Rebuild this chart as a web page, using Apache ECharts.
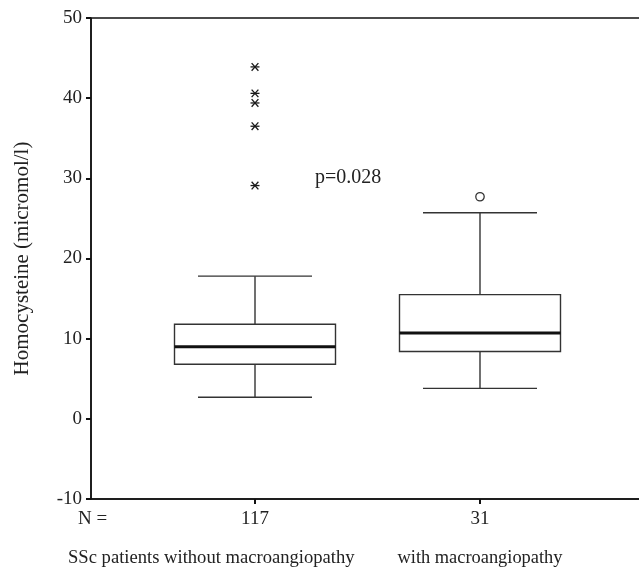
<!DOCTYPE html>
<html>
<head>
<meta charset="utf-8">
<script src="https://cdn.jsdelivr.net/npm/echarts@6/dist/echarts.min.js"></script>
<style>html,body{margin:0;padding:0;background:#fff}#c{width:639px;height:572px}</style>
</head>
<body>
<div id="c"></div>
<script>
// ---- data ----
const categories = ['SSc patients without macroangiopathy', 'with macroangiopathy'];
const groupPos = [1, 2];
const nCounts = [117, 31];
// [min, Q1, median, Q3, max]
const boxStats = [
  [2.7, 6.8, 9.0, 11.8, 17.8],
  [3.8, 8.4, 10.7, 15.5, 25.7]
];
const extremes = [[1, 43.9], [1, 40.6], [1, 39.4], [1, 36.5], [1, 29.1]];
const outliers = [[2, 27.7]];
const yTicks = [-10, 0, 10, 20, 30, 40, 50];
const pText = 'p=0.028';

const FONT = '"Liberation Serif", "Times New Roman", serif';
const chart = echarts.init(document.getElementById('c'), null, {renderer: 'canvas'});

const boxData = boxStats.map((s, i) => [groupPos[i]].concat(s));

const BOX_HALF = 80.5, CAP_HALF = 57;
function renderBox(params, api) {
  const x = api.value(0);
  const p = [1,2,3,4,5].map(k => api.coord([x, api.value(k)]));
  const cx = p[0][0];
  const st = {stroke: '#333', lineWidth: 1.4, fill: null};
  return {
    type: 'group',
    children: [
      {type: 'line', shape: {x1: cx, y1: p[0][1], x2: cx, y2: p[1][1]}, style: st},
      {type: 'line', shape: {x1: cx, y1: p[3][1], x2: cx, y2: p[4][1]}, style: st},
      {type: 'line', shape: {x1: cx - CAP_HALF, y1: p[0][1], x2: cx + CAP_HALF, y2: p[0][1]}, style: st},
      {type: 'line', shape: {x1: cx - CAP_HALF, y1: p[4][1], x2: cx + CAP_HALF, y2: p[4][1]}, style: st},
      {type: 'rect', shape: {x: cx - BOX_HALF, y: p[3][1], width: 2 * BOX_HALF, height: p[1][1] - p[3][1]}, style: {stroke: '#333', lineWidth: 1.4, fill: '#fff'}},
      {type: 'line', shape: {x1: cx - BOX_HALF, y1: p[2][1], x2: cx + BOX_HALF, y2: p[2][1]}, style: {stroke: '#111', lineWidth: 3}}
    ]
  };
}
function renderStar(params, api) {
  const c = api.coord([api.value(0), api.value(1)]);
  const hw = 4.5, hh = 3.8;
  const st = {stroke: '#1a1a1a', lineWidth: 1.3};
  return {
    type: 'group',
    children: [
      {type: 'line', shape: {x1: c[0] - hw, y1: c[1], x2: c[0] + hw, y2: c[1]}, style: st},
      {type: 'line', shape: {x1: c[0] - hw * 0.75, y1: c[1] - hh, x2: c[0] + hw * 0.75, y2: c[1] + hh}, style: st},
      {type: 'line', shape: {x1: c[0] + hw * 0.75, y1: c[1] - hh, x2: c[0] - hw * 0.75, y2: c[1] + hh}, style: st}
    ]
  };
}
function renderCircle(params, api) {
  const c = api.coord([api.value(0), api.value(1)]);
  return {type: 'circle', shape: {cx: c[0], cy: c[1], r: 4.2}, style: {stroke: '#333', lineWidth: 1.3, fill: '#fff'}};
}

chart.setOption({
  animation: false,
  backgroundColor: '#fff',
  grid: {left: 91, top: 18, width: 553, height: 481, outerBoundsMode: 'none', containLabel: false,
         show: true, borderColor: '#111', borderWidth: 1.5, backgroundColor: 'transparent'},
  xAxis: {
    type: 'value', min: 0.2711, max: 2.7289,
    splitLine: {show: false},
    axisLine: {show: true, onZero: false, lineStyle: {color: '#111', width: 1.5}},
    axisTick: {show: true, customValues: groupPos, length: 5, lineStyle: {color: '#111', width: 2}},
    axisLabel: {customValues: groupPos, formatter: v => String(nCounts[groupPos.indexOf(v)]), fontFamily: FONT, fontSize: 19, color: '#222', margin: 11}
  },
  yAxis: {
    type: 'value', min: yTicks[0], max: yTicks[yTicks.length - 1], interval: 10,
    splitLine: {show: false},
    axisLine: {show: true, onZero: false, lineStyle: {color: '#111', width: 1.5}},
    axisTick: {show: true, length: 5, lineStyle: {color: '#111', width: 2}},
    axisLabel: {fontFamily: FONT, fontSize: 19, color: '#222', margin: 9},
    name: 'Homocysteine (micromol/l)',
    nameLocation: 'middle', nameGap: 58,
    nameTextStyle: {fontFamily: FONT, fontSize: 21, color: '#222'}
  },
  series: [
    {type: 'custom', renderItem: renderBox, data: boxData, encode: {x: 0, y: [1,2,3,4,5]}, z: 3},
    {type: 'custom', renderItem: renderStar, data: extremes, encode: {x: 0, y: 1}, z: 4},
    {type: 'custom', renderItem: renderCircle, data: outliers, encode: {x: 0, y: 1}, z: 4}
  ],
  graphic: [
    {type: 'text', x: 78, y: 519, style: {text: 'N =', font: '19px ' + FONT, fill: '#222', textVerticalAlign: 'middle'}},
    {type: 'text', x: 68, y: 558, style: {text: categories[0], font: '18.6px ' + FONT, fill: '#222', textVerticalAlign: 'middle'}},
    {type: 'text', x: 480, y: 558, style: {text: categories[1], font: '18.4px ' + FONT, fill: '#222', textAlign: 'center', textVerticalAlign: 'middle'}},
    {type: 'text', x: 315, y: 178, style: {text: pText, font: '20px ' + FONT, fill: '#222', textVerticalAlign: 'middle'}}
  ]
});
</script>
</body>
</html>
